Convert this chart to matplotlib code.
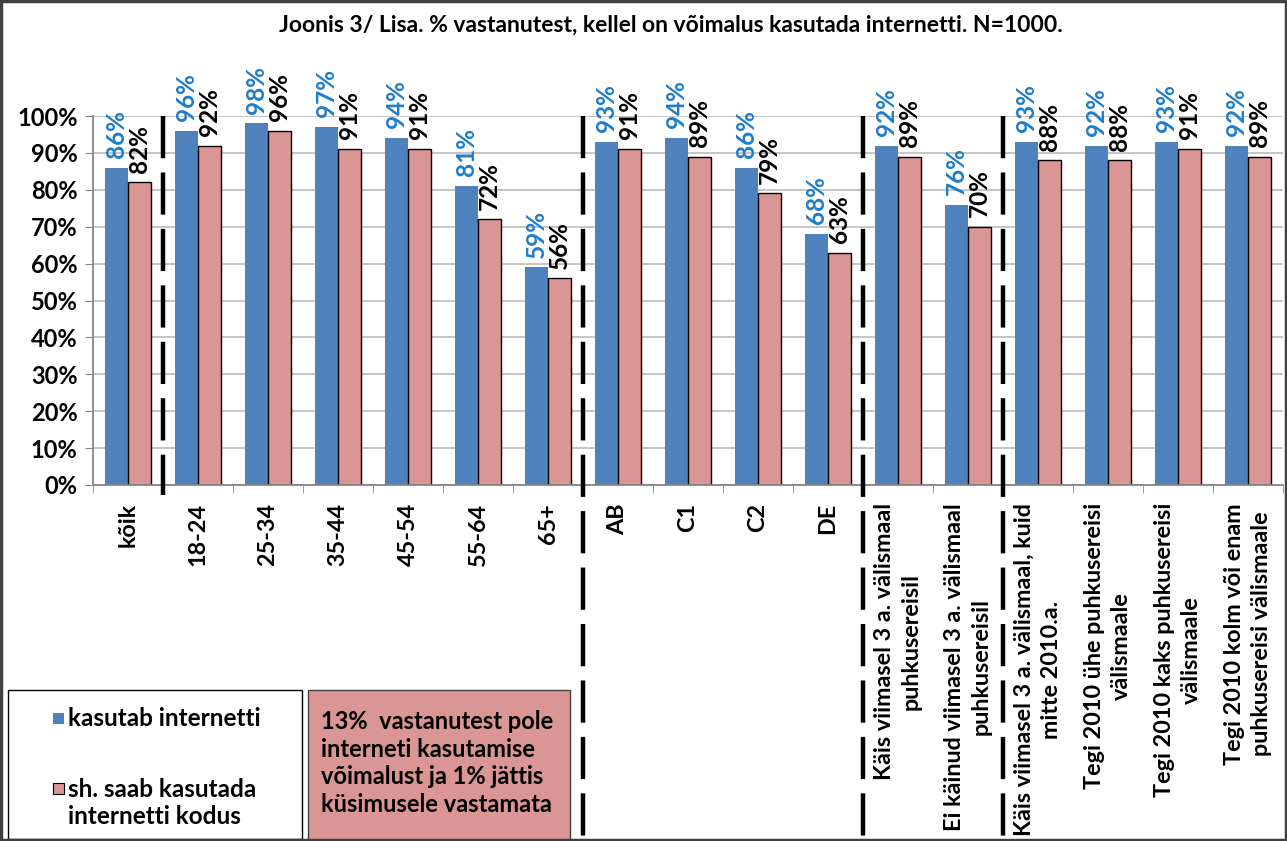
import matplotlib
matplotlib.use("Agg")
import matplotlib.pyplot as plt
from matplotlib.patches import Rectangle
from matplotlib.transforms import blended_transform_factory
import numpy as np

plt.rcParams['font.family'] = ['Lato', 'DejaVu Sans']

categories = ["kõik", "18-24", "25-34", "35-44", "45-54", "55-64", "65+",
              "AB", "C1", "C2", "DE",
              "Käis viimasel 3 a. välismaal\npuhkusereisil",
              "Ei käinud viimasel 3 a. välismaal\npuhkusereisil",
              "Käis viimasel 3 a. välismaal, kuid\nmitte 2010.a.",
              "Tegi 2010 ühe puhkusereisi\nvälismaale",
              "Tegi 2010 kaks puhkusereisi\nvälismaale",
              "Tegi 2010 kolm või enam\npuhkusereisi välismaale"]
uses_internet = [86, 96, 98, 97, 94, 81, 59, 93, 94, 86, 68, 92, 76, 93, 92, 93, 92]
home_internet = [82, 92, 96, 91, 91, 72, 56, 91, 89, 79, 63, 89, 70, 88, 88, 91, 89]
yticks = [0, 10, 20, 30, 40, 50, 60, 70, 80, 90, 100]
separators = [0.5, 6.5, 10.5, 12.5]
series_names = ["kasutab internetti", "sh. saab kasutada\ninternetti kodus"]
title = "Joonis 3/ Lisa. % vastanutest, kellel on võimalus kasutada internetti. N=1000."
note = "13%  vastanutest pole\ninterneti kasutamise\nvõimalust ja 1% jättis\nküsimusele vastamata"

W, H = 1287, 841
fig = plt.figure(figsize=(W / 100, H / 100), dpi=100)

def fx(x):
    return x / W

def fy(y):
    return 1 - y / H

ax_left, ax_right, ax_top, ax_bot = 93, 1283, 116, 485
ax = fig.add_axes([fx(ax_left), fy(ax_bot), (ax_right - ax_left) / W, (ax_bot - ax_top) / H])

blue = "#4F81BD"
pink = "#D99694"
lblue = "#1F7DCB"
x = np.arange(len(categories))
bw = 0.33
ax.bar(x - bw / 2, uses_internet, width=bw, color=blue, edgecolor="none", zorder=3)
ax.bar(x + bw / 2, home_internet, width=bw, color=pink, edgecolor="black", linewidth=1.0, zorder=3)

for xi, v in zip(x, uses_internet):
    ax.annotate(f"{v}%", (xi - bw / 2, v), xytext=(0, 7), textcoords="offset points",
                rotation=90, ha="center", va="bottom", color=lblue, fontsize=17.5,
                fontweight="bold", annotation_clip=False)
for xi, v in zip(x, home_internet):
    ax.annotate(f"{v}%", (xi + bw / 2, v), xytext=(0, 7), textcoords="offset points",
                rotation=90, ha="center", va="bottom", color="black", fontsize=17.5,
                fontweight="bold", annotation_clip=False)

ax.set_xlim(-0.5, len(categories) - 0.5)
ax.set_ylim(0, 100)
ax.set_yticks(yticks)
ax.set_yticklabels([f"{t}%" for t in yticks], fontsize=17, fontweight="bold")
ax.set_xticks(x)
ax.set_xticklabels(categories, rotation=90, ha="center", va="top", multialignment="center",
                   fontsize=16.8, fontweight="bold", linespacing=1.35)
ax.set_xticks(np.arange(-0.5, len(categories), 1.0), minor=True)
ax.tick_params(axis="x", which="major", length=0, pad=13)
ax.tick_params(axis="x", which="minor", length=6, color="#868686", direction="out")
ax.tick_params(axis="y", length=6, color="#868686", pad=5)
ax.grid(axis="y", color="#C0C0C0", linewidth=1.3, zorder=0)
ax.set_axisbelow(True)
for s in ["top", "right"]:
    ax.spines[s].set_visible(False)
for s in ["left", "bottom"]:
    ax.spines[s].set_color("#868686")
    ax.spines[s].set_linewidth(1.3)
    ax.spines[s].set_zorder(4)

# dashed separators
trans = blended_transform_factory(ax.transData, fig.transFigure)
for i, sx in enumerate(separators):
    y0 = fy(495) if i == 0 else 0.0
    ax.plot([sx, sx], [fy(116), y0], transform=trans, color="black", lw=3.2,
            linestyle=(0, (9.5, 3.2)), clip_on=False, zorder=5)

# title
fig.text(fx(671), fy(25), title, ha="center", va="center", fontsize=16.5, fontweight="bold")

# legend box
fig.add_artist(Rectangle((fx(8), fy(839)), (302 - 8) / W, (839 - 690) / H,
                         transform=fig.transFigure, fill=False, edgecolor="black", lw=1.0))
fig.add_artist(Rectangle((fx(53), fy(724)), 11 / W, 11 / H, transform=fig.transFigure,
                         facecolor=blue, edgecolor="none"))
fig.text(fx(68), fy(718), series_names[0], ha="left", va="center", fontsize=17.5, fontweight="bold")
fig.add_artist(Rectangle((fx(53), fy(794)), 11 / W, 11 / H, transform=fig.transFigure,
                         facecolor=pink, edgecolor="black", lw=0.8))
fig.text(fx(68), fy(803), series_names[1], ha="left", va="center", fontsize=17.5,
         fontweight="bold", linespacing=1.25)

# note box
fig.add_artist(Rectangle((fx(308), fy(845)), (570 - 308) / W, (845 - 690) / H,
                         transform=fig.transFigure, facecolor=pink, edgecolor="#404040", lw=1.0))
fig.text(fx(321), fy(763), note, ha="left", va="center", fontsize=17, fontweight="bold",
         linespacing=1.25)

# outer border
fig.add_artist(Rectangle((0.001, 0.001), 0.998, 0.998, transform=fig.transFigure,
                         fill=False, edgecolor="#404040", lw=2.5))

fig.savefig("out.png", dpi=100)
